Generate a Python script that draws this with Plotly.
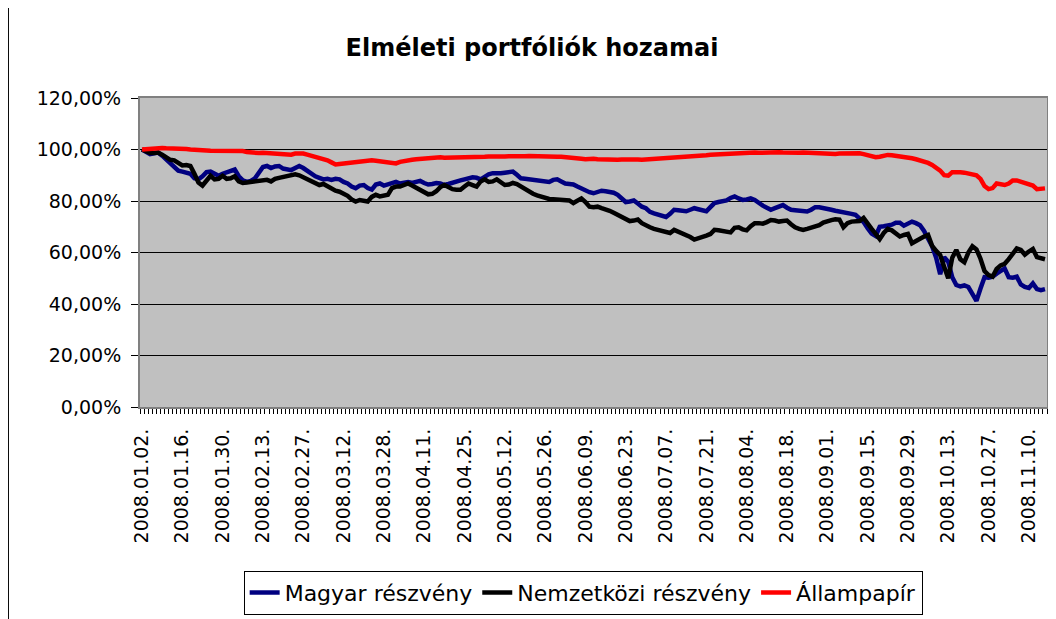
import plotly.graph_objects as go

title_text = "Elméleti portfóliók hozamai"
series_names = ["Magyar részvény", "Nemzetközi részvény", "Állampapír"]

tick_labels = ["2008.01.02.", "2008.01.16.", "2008.01.30.", "2008.02.13.", "2008.02.27.",
               "2008.03.12.", "2008.03.28.", "2008.04.11.", "2008.04.25.", "2008.05.12.",
               "2008.05.26.", "2008.06.09.", "2008.06.23.", "2008.07.07.", "2008.07.21.",
               "2008.08.04.", "2008.08.18.", "2008.09.01.", "2008.09.15.", "2008.09.29.",
               "2008.10.13.", "2008.10.27.", "2008.11.10."]
label_step = 10

magyar = [
    100.0, 99.2, 98.2, 98.5, 98.8, 97.6, 96.2, 95.0, 93.2, 91.8,
    91.4, 91.0, 90.6, 88.8, 88.4, 89.6, 91.2, 91.4, 90.4, 89.8,
    90.6, 91.0, 91.6, 92.2, 89.6, 88.0, 87.4, 87.8, 88.8, 91.0,
    93.2, 93.6, 92.8, 93.4, 93.6, 92.6, 92.2, 92.0, 92.8, 93.6,
    92.8, 91.6, 90.6, 89.6, 89.0, 88.4, 88.6, 88.2, 88.6, 88.4,
    87.4, 86.8, 85.6, 85.0, 86.0, 86.2, 85.0, 84.4, 86.4, 86.8,
    86.0, 86.4, 87.2, 87.4, 86.8, 87.2, 87.4, 87.0, 87.6, 87.8,
    87.0, 86.4, 86.6, 87.0, 86.8, 86.2, 86.6, 87.2, 87.6, 88.0,
    88.4, 88.8, 89.2, 89.0, 88.4, 89.4, 90.4, 90.8, 90.6, 90.8,
    91.0, 91.0, 91.4, 90.2, 88.8, 88.6, 88.4, 88.0, 87.6, 87.4,
    87.6, 87.4, 88.2, 88.4, 87.6, 86.8, 86.6, 86.4, 85.6, 84.8,
    84.0, 83.4, 83.0, 83.6, 84.0, 83.8, 83.6, 83.2, 82.4, 81.0,
    79.6, 79.8, 80.2, 79.0, 77.8, 77.2, 75.8, 75.2, 74.6, 74.2,
    73.8, 75.0, 76.6, 76.4, 76.0, 76.0, 76.6, 77.2, 76.8, 76.4,
    76.0, 77.6, 79.2, 79.6, 79.8, 80.2, 81.2, 81.8, 81.0, 80.4,
    80.6, 81.0, 80.4, 79.2, 78.2, 77.4, 76.6, 77.2, 78.0, 78.4,
    77.4, 76.6, 76.4, 76.2, 76.0, 75.9, 76.6, 77.6, 77.6, 77.4,
    77.2, 76.6, 76.2, 76.0, 75.8, 75.4, 75.0, 74.6, 73.4, 71.8,
    69.4, 67.4, 66.4, 70.0, 70.2, 70.4, 70.8, 71.6, 71.6, 70.4,
    71.2, 72.0, 71.4, 70.6, 68.4, 65.8, 62.4, 58.0, 51.6, 58.2,
    56.4, 50.4, 47.4, 46.8, 47.2, 46.6, 44.2, 41.2, 46.0, 50.4,
    50.2, 50.6, 51.8, 53.0, 53.8, 50.4, 50.2, 50.6, 47.6, 46.6,
    46.2, 48.0, 45.8, 45.4, 45.8,
]

nemzetkozi = [
    100.0, 99.2, 98.6, 98.6, 98.8, 98.0, 96.8, 96.0, 95.8, 94.8,
    93.8, 94.0, 93.6, 90.6, 87.2, 86.0, 88.2, 89.8, 88.4, 88.6,
    89.8, 88.6, 88.8, 89.6, 87.6, 87.0, 87.2, 87.4, 87.6, 88.0,
    88.4, 88.2, 87.6, 88.6, 89.0, 89.4, 89.6, 89.8, 90.4, 90.0,
    89.2, 88.6, 87.6, 86.8, 86.2, 86.6, 85.6, 84.6, 84.0, 83.6,
    83.0, 82.0, 80.6, 79.8, 80.4, 80.2, 79.8, 81.6, 82.4, 81.8,
    82.0, 82.4, 85.0, 85.6, 85.6, 86.4, 86.8, 86.0, 85.2, 84.4,
    83.6, 82.6, 82.8, 83.8, 85.4, 86.2, 85.4, 84.6, 84.4, 84.4,
    85.6, 86.8, 86.2, 85.6, 87.6, 88.4, 87.4, 87.6, 88.4, 87.4,
    86.2, 86.4, 87.0, 86.6, 85.6, 84.8, 83.4, 82.8, 82.2, 81.7,
    81.2, 80.8, 80.7, 80.6, 80.7, 80.5, 80.2, 79.2, 80.2, 81.0,
    79.6, 77.8, 77.6, 77.8, 77.2, 76.8, 76.2, 75.4, 74.6, 73.6,
    73.0, 72.2, 72.4, 72.8, 71.4, 70.4, 69.8, 69.2, 68.8, 68.4,
    67.8, 67.6, 68.8, 68.2, 67.4, 66.8, 66.0, 65.0, 65.4, 66.2,
    66.6, 67.2, 68.8, 68.6, 68.2, 68.0, 67.8, 69.6, 69.8, 69.0,
    68.6, 70.2, 71.4, 71.4, 71.2, 71.8, 72.6, 72.4, 72.0, 72.2,
    72.4, 71.0, 69.8, 69.2, 68.8, 69.2, 69.6, 69.8, 70.6, 71.6,
    72.2, 72.6, 72.9, 72.8, 69.8, 71.4, 72.0, 72.0, 72.2, 73.4,
    71.0, 69.2, 67.2, 65.2, 67.6, 69.2, 68.6, 67.4, 66.2, 66.8,
    67.2, 63.6, 64.6, 65.6, 66.2, 66.8, 62.6, 60.6, 59.0, 54.4,
    50.0, 58.0, 61.0, 57.4, 56.2, 60.0, 62.4, 61.2, 57.6, 52.8,
    51.2, 50.6, 53.6, 55.0, 55.6, 57.4, 59.6, 61.6, 61.0, 59.2,
    60.4, 61.4, 58.2, 57.6, 57.4,
]

allampapir = [
    100.0, 100.2, 100.4, 100.5, 100.5, 100.6, 100.5, 100.5, 100.4, 100.3,
    100.3, 100.2, 100.0, 100.0, 99.9, 99.7, 99.6, 99.5, 99.5, 99.4,
    99.6, 99.7, 99.8, 99.8, 99.7, 99.4, 99.0, 98.8, 98.7, 98.6,
    98.7, 98.6, 98.5, 98.6, 98.4, 98.2, 97.9, 98.0, 98.4, 98.6,
    98.4, 98.0, 97.6, 97.2, 96.8, 96.4, 95.8, 95.0, 94.2, 94.4,
    94.6, 94.8, 95.0, 95.3, 95.6, 95.8, 96.0, 95.8, 95.6, 95.4,
    95.3, 95.2, 94.6, 94.6, 95.2, 95.6, 95.7, 96.0, 96.2, 96.4,
    96.5, 96.6, 96.7, 96.8, 97.0, 96.8, 96.8, 97.0, 96.9, 97.0,
    97.1, 97.0, 97.1, 97.2, 97.1, 97.2, 97.3, 97.2, 97.3, 97.2,
    97.3, 97.4, 97.3, 97.4, 97.5, 97.4, 97.5, 97.4, 97.5, 97.4,
    97.3, 97.4, 97.3, 97.2, 97.2, 97.1, 97.0, 97.0, 96.8, 96.4,
    96.2, 96.5, 96.4, 96.2, 96.1, 96.0, 96.1, 96.0, 96.0, 96.1,
    96.2, 96.1, 96.0, 96.1, 96.0, 96.1, 96.2, 96.1, 96.3, 96.5,
    96.6, 96.7, 96.8, 97.0, 97.1, 97.2, 97.3, 97.4, 97.5, 97.6,
    97.8, 98.0, 98.1, 98.2, 98.4, 98.3, 98.5, 98.6, 98.8, 98.7,
    98.8, 98.9, 98.8, 98.7, 98.8, 98.9, 98.8, 98.8, 98.9, 98.8,
    98.7, 98.8, 98.8, 98.7, 98.8, 98.7, 98.6, 98.5, 98.6, 98.5,
    98.4, 98.4, 98.3, 98.4, 98.5, 98.4, 98.5, 98.6, 98.5, 98.2,
    97.8, 97.4, 97.0, 97.2, 97.6, 97.9, 97.8, 97.6, 97.4, 97.3,
    97.0, 96.6, 96.2, 95.8, 95.4, 94.8, 94.0, 93.0, 91.8, 90.0,
    89.8, 91.2, 91.4, 91.2, 91.0, 90.8, 90.4, 90.0, 88.6, 85.8,
    84.6, 85.0, 86.8, 86.6, 86.2, 86.8, 88.0, 88.0, 87.4, 87.0,
    86.6, 86.0, 84.6, 84.6, 84.9,
]

y_tick_values = [0, 20, 40, 60, 80, 100, 120]
y_tick_labels = ["0,00%", "20,00%", "40,00%", "60,00%", "80,00%", "100,00%", "120,00%"]

colors = ["#000080", "#000000", "#FF0000"]
x_idx = list(range(len(magyar)))

fig = go.Figure()
for name, vals, col in zip(series_names, [magyar, nemzetkozi, allampapir], colors):
    fig.add_trace(go.Scatter(x=x_idx, y=vals, mode="lines", name=name,
                             line=dict(color=col, width=4.5)))

FONT = "DejaVu Sans"
W, H = 1048, 611
fig.update_layout(
    width=W, height=H,
    margin=dict(l=132, r=9, t=90, b=212, autoexpand=False),
    paper_bgcolor="white",
    plot_bgcolor="#C0C0C0",
    font=dict(family=FONT, color="black"),
    title=dict(text="<b>" + title_text + "</b>", font=dict(size=24, family=FONT, color="black"),
               x=0.5, xref="container", xanchor="center",
               y=1 - 40 / H, yref="container", yanchor="middle"),
    showlegend=True,
    legend=dict(orientation="h", x=0.4886, xanchor="center", y=-0.601, yanchor="middle",
                bgcolor="white", bordercolor="black", borderwidth=1,
                font=dict(size=22, family=FONT, color="black"),
                itemwidth=30, tracegroupgap=0),
)

fig.update_xaxes(
    range=[-0.5, len(magyar) - 0.5],
    automargin=False,
    tickmode="array",
    tickvals=[label_step * k for k in range(len(tick_labels))],
    ticktext=tick_labels,
    tickangle=-90,
    ticks="",
    ticklabelstandoff=12,
    tickfont=dict(size=19, family=FONT, color="black"),
    showgrid=False,
    zeroline=False,
    showline=True, linecolor="#808080", linewidth=2, mirror=True,
    minor=dict(ticks="outside", ticklen=5, tickcolor="black", tickwidth=1,
               tickmode="linear", tick0=-0.5, dtick=1, showgrid=False),
)

fig.update_yaxes(
    range=[0, 120],
    automargin=False,
    tickmode="array",
    tickvals=y_tick_values,
    ticktext=y_tick_labels,
    ticks="outside", ticklen=7, tickcolor="black", tickwidth=1,
    ticklabelstandoff=6,
    tickfont=dict(size=19, family=FONT, color="black"),
    showgrid=True, gridcolor="black", gridwidth=1,
    zeroline=False,
    showline=True, linecolor="#808080", linewidth=2, mirror=True,
)

# left border of the chart area
fig.add_shape(type="line", xref="paper", yref="paper",
              x0=-131.5 / 906.7, x1=-131.5 / 906.7, y0=1.32, y1=-0.69,
              line=dict(color="black", width=1))

fig.write_html("out.html")
